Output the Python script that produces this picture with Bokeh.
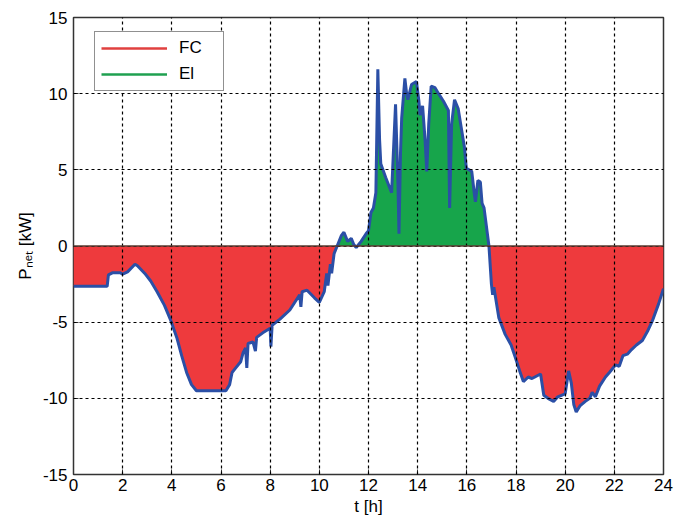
import numpy as np
from bokeh.plotting import figure
from bokeh.models import (FixedTicker, Legend, LegendItem, Span,
                          ColumnDataSource)
from bokeh.embed import file_html
from bokeh.resources import INLINE

# ---- data ----
t_h = [0.0, 1.37, 1.42, 1.6, 1.9, 2.0, 2.2, 2.5, 2.6, 2.9, 3.14, 3.4, 3.7, 3.96,
       4.2, 4.4, 4.6, 4.8, 5.0, 6.2, 6.35, 6.45, 6.6, 6.8, 6.9, 7.0, 7.05, 7.1,
       7.3, 7.4, 7.45, 7.7, 8.0, 8.03, 8.08, 8.4, 8.8, 9.2, 9.25, 9.3, 9.5, 9.8,
       10.0, 10.2, 10.3, 10.35, 10.45, 10.5, 10.6, 10.75, 10.9, 11.0, 11.15, 11.3,
       11.4, 11.5, 11.7, 11.9, 12.0, 12.1, 12.2, 12.3, 12.38, 12.45, 12.5, 12.7,
       12.94, 13.1, 13.2, 13.24, 13.3, 13.35, 13.48, 13.55, 13.6, 13.75, 13.95,
       14.05, 14.1, 14.2, 14.3, 14.37, 14.45, 14.55, 14.7, 14.85, 15.05, 15.25,
       15.3, 15.38, 15.5, 15.65, 15.75, 15.9, 15.98, 16.2, 16.3, 16.35, 16.45,
       16.55, 16.62, 16.7, 16.9, 17.0, 17.05, 17.1, 17.3, 17.56, 17.8, 17.97,
       18.15, 18.3, 18.5, 18.65, 19.0, 19.13, 19.3, 19.53, 19.7, 20.0, 20.14,
       20.25, 20.35, 20.45, 20.6, 20.82, 21.0, 21.1, 21.23, 21.4, 21.64, 21.8,
       22.05, 22.2, 22.35, 22.53, 22.7, 22.9, 23.14, 23.35, 23.55, 23.8, 24.0]
p_net = [-2.65, -2.65, -1.9, -1.75, -1.75, -1.85, -1.7, -1.2, -1.3, -1.8, -2.3,
         -3.0, -3.9, -4.9, -6.0, -7.2, -8.3, -9.1, -9.5, -9.5, -9.1, -8.3, -8.0,
         -7.6, -7.0, -6.7, -8.0, -6.4, -6.3, -6.9, -6.0, -5.7, -5.4, -6.6, -5.2,
         -4.8, -4.2, -3.2, -4.0, -3.0, -2.9, -3.4, -3.7, -3.0, -1.8, -2.6, -1.2,
         -1.8, -0.5, 0.1, 0.7, 0.9, 0.3, 0.5, 0.1, -0.1, 0.3, 0.8, 1.0, 2.2, 2.5,
         3.5, 11.6, 7.0, 5.4, 4.5, 3.5, 9.3, 4.0, 0.8, 6.0, 8.4, 11.0, 10.0, 9.6,
         10.6, 10.8, 9.5, 8.6, 9.2, 7.0, 4.9, 8.0, 10.5, 10.4, 10.0, 9.5, 8.9,
         2.5, 8.0, 9.6, 9.0, 8.0, 6.5, 5.1, 4.9, 3.5, 2.9, 4.3, 4.2, 2.8, 2.5,
         0.0, -2.5, -3.2, -2.7, -4.7, -5.8, -6.5, -7.3, -8.2, -8.9, -8.6, -8.7,
         -8.4, -9.8, -10.0, -10.2, -9.9, -9.7, -8.2, -9.0, -10.4, -10.9, -10.5,
         -10.2, -10.0, -9.6, -9.9, -9.2, -8.6, -8.3, -7.8, -7.9, -7.2, -7.1,
         -6.8, -6.5, -6.2, -5.6, -4.9, -3.8, -2.8]
x_ticks = [0, 2, 4, 6, 8, 10, 12, 14, 16, 18, 20, 22, 24]
y_ticks = [-15, -10, -5, 0, 5, 10, 15]
series_names = ["FC", "El"]
x_label = "t [h]"
y_label = "P\u2099\u2091\u209c [kW]"

FONT = "Liberation Sans"

t = np.array(t_h)
pv = np.array(p_net)
src = ColumnDataSource(dict(t=t, p=pv, neg=np.minimum(pv, 0.0),
                            pos=np.maximum(pv, 0.0), zero=np.zeros_like(pv)))

p = figure(width=684, height=519, output_backend="svg", toolbar_location=None,
           x_range=(0, 24), y_range=(-15, 15),
           min_border_left=73, min_border_right=21, min_border_top=17,
           min_border_bottom=45)
p.background_fill_color = "white"
p.border_fill_color = "white"
p.outline_line_color = "#333333"
p.outline_line_width = 1.5

# fills
p.varea(x="t", y1="zero", y2="neg", source=src, fill_color="#ee3a3d")
p.varea(x="t", y1="zero", y2="pos", source=src, fill_color="#17a54b")
p.add_layout(Span(location=0, dimension="width", line_color="#5a3a30",
                  line_width=1.5))
p.line(x="t", y="p", source=src, line_color="#2b4fa6", line_width=3)

# axes
for ax in (p.xaxis[0], p.yaxis[0]):
    ax.axis_line_color = None
    ax.major_tick_in = 5
    ax.major_tick_out = 0
    ax.minor_tick_line_color = None
    ax.major_tick_line_color = "#333333"
    ax.major_label_text_font = FONT
    ax.major_label_text_font_size = "17px"
    ax.major_label_text_color = "black"
    ax.axis_label_text_font = FONT
    ax.axis_label_text_font_size = "17px"
    ax.axis_label_text_font_style = "normal"
    ax.axis_label_text_color = "black"
p.xaxis.ticker = FixedTicker(ticks=x_ticks)
p.yaxis.ticker = FixedTicker(ticks=y_ticks)
p.xaxis.major_label_overrides = {v: str(v) for v in x_ticks}
p.yaxis.major_label_overrides = {v: str(v) for v in y_ticks}
p.xaxis.major_label_standoff = 4
p.yaxis.major_label_standoff = 6
p.xaxis.axis_label = x_label
p.xaxis.axis_label_standoff = 3
p.yaxis.axis_label = y_label
p.yaxis.axis_label_standoff = 5

for g in (p.xgrid[0], p.ygrid[0]):
    g.grid_line_color = "black"
    g.grid_line_dash = "3 3"
    g.grid_line_width = 1.2
    g.level = "guide"
p.xgrid.ticker = FixedTicker(ticks=x_ticks)
p.ygrid.ticker = FixedTicker(ticks=y_ticks)

# legend
nan_src = ColumnDataSource(dict(x=[np.nan], y=[np.nan]))
r_fc = p.line(x="x", y="y", source=nan_src, line_color="#e0403f", line_width=2.5)
r_el = p.line(x="x", y="y", source=nan_src, line_color="#1fa050", line_width=2.5)
leg = Legend(items=[LegendItem(label=series_names[0], renderers=[r_fc]),
                    LegendItem(label=series_names[1], renderers=[r_el])],
             location=(21, 383), margin=0, padding=6, spacing=6,
             glyph_width=66, glyph_height=20, label_height=20,
             label_standoff=12, label_width=38,
             label_text_font=FONT, label_text_font_size="17px",
             label_text_color="black",
             border_line_color="#222222", border_line_width=1.2,
             background_fill_color="white", background_fill_alpha=1.0)
p.add_layout(leg)

open("out.html", "w").write(file_html(p, INLINE))
